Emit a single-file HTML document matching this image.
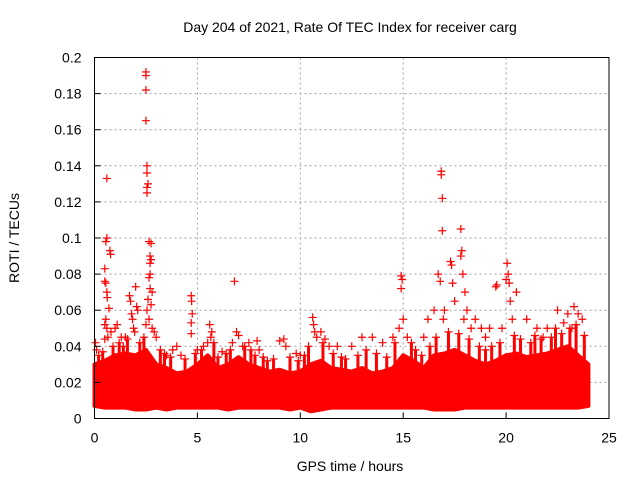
<!DOCTYPE html>
<html><head><meta charset="utf-8"><style>
body{margin:0;background:#fff}
svg{display:block;font-family:"Liberation Sans",sans-serif}
</style></head><body>
<svg id="chart" width="640" height="480">
<text x="350" y="32" font-size="14" text-anchor="middle">Day 204 of 2021, Rate Of TEC Index for receiver carg</text>
<text x="350" y="471" font-size="14" text-anchor="middle">GPS time / hours</text>
<text x="19" y="238" font-size="14" text-anchor="middle" transform="rotate(-90 19 238)">ROTI / TECUs</text>
<g id="grid"></g><g id="marks"></g><g id="axes"></g>
</svg>
<script>
const xTicks=[0,5,10,15,20,25];
const yTicks=[0,0.02,0.04,0.06,0.08,0.1,0.12,0.14,0.16,0.18,0.2];
const yTickLabels=["0","0.02","0.04","0.06","0.08","0.1","0.12","0.14","0.16","0.18","0.2"];
const bandHours=[0,0.5,1,1.5,2,2.5,3,3.5,4,4.5,5,5.5,6,6.5,7,7.5,8,8.5,9,9.5,10,10.5,11,11.5,12,12.5,13,13.5,14,14.5,15,15.5,16,16.5,17,17.5,18,18.5,19,19.5,20,20.5,21,21.5,22,22.5,23,23.5,24];
const bandUpper=[0.03,0.032,0.035,0.036,0.035,0.038,0.03,0.028,0.025,0.026,0.03,0.035,0.028,0.03,0.034,0.03,0.028,0.026,0.027,0.025,0.026,0.03,0.032,0.028,0.027,0.026,0.028,0.025,0.026,0.028,0.035,0.032,0.028,0.035,0.036,0.038,0.035,0.032,0.03,0.032,0.035,0.036,0.034,0.035,0.036,0.038,0.04,0.035,0.03];
const bandLower=[0.007,0.006,0.006,0.006,0.005,0.005,0.006,0.005,0.006,0.006,0.006,0.006,0.006,0.005,0.006,0.006,0.006,0.006,0.006,0.005,0.006,0.004,0.005,0.006,0.006,0.006,0.006,0.006,0.006,0.006,0.006,0.006,0.006,0.005,0.005,0.005,0.006,0.006,0.006,0.006,0.006,0.006,0.006,0.006,0.006,0.006,0.006,0.006,0.007];
const pointHours=[0.05,0.1,0.6,0.55,0.6,0.75,0.78,0.5,0.5,0.55,0.6,0.62,0.7,0.55,0.5,0.6,0.8,0.5,0.65,1.0,1.1,1.3,1.5,1.7,1.75,1.8,1.85,1.9,2.0,2.05,2.1,1.95,2.5,2.5,2.5,2.5,2.55,2.55,2.6,2.55,2.55,2.65,2.75,2.7,2.75,2.7,2.7,2.65,2.7,2.8,2.6,2.55,2.75,2.65,2.8,2.9,3.0,2.5,3.5,3.8,4.0,4.2,4.7,4.72,4.75,4.7,4.7,5.0,5.3,5.6,5.7,5.65,5.5,6.2,6.8,6.7,6.9,7.0,7.2,7.5,7.9,8.0,9.0,9.2,9.3,9.8,10.0,10.6,10.65,10.7,10.8,11.0,11.2,11.4,11.8,12.5,13,13.5,14,14.5,14.9,14.95,14.9,15.0,14.8,15.2,16,16.2,16.5,16.7,16.85,16.85,16.9,16.9,16.8,17.0,16.95,17.3,17.35,17.4,17.5,17.8,17.85,17.8,17.9,18.0,18.1,17.95,18.5,18.8,19.2,19.5,19.55,19.8,20.05,20.1,20.0,20.15,20.2,20.5,20.3,21,21.5,22.0,22.5,23.0,23.3,23.5,23.7,23.2,22.8,21.8,19,18.3];
const pointValues=[0.042,0.038,0.133,0.098,0.1,0.093,0.091,0.083,0.076,0.075,0.07,0.067,0.061,0.055,0.052,0.05,0.048,0.044,0.045,0.05,0.052,0.045,0.045,0.068,0.065,0.058,0.055,0.05,0.073,0.062,0.06,0.048,0.192,0.19,0.182,0.165,0.14,0.136,0.13,0.128,0.125,0.098,0.097,0.09,0.088,0.086,0.08,0.078,0.072,0.07,0.066,0.06,0.063,0.055,0.05,0.048,0.045,0.052,0.035,0.038,0.04,0.035,0.068,0.065,0.058,0.053,0.047,0.038,0.04,0.052,0.048,0.045,0.042,0.037,0.076,0.042,0.048,0.046,0.04,0.042,0.043,0.038,0.043,0.044,0.04,0.036,0.035,0.056,0.052,0.048,0.045,0.048,0.044,0.04,0.04,0.04,0.045,0.045,0.042,0.045,0.079,0.077,0.072,0.055,0.05,0.045,0.045,0.055,0.06,0.08,0.137,0.135,0.122,0.104,0.076,0.06,0.055,0.087,0.085,0.075,0.065,0.105,0.093,0.09,0.08,0.07,0.06,0.055,0.055,0.05,0.05,0.073,0.074,0.05,0.086,0.08,0.077,0.075,0.065,0.07,0.055,0.055,0.05,0.05,0.06,0.058,0.062,0.058,0.055,0.05,0.053,0.045,0.045,0.05];
const midHours=[0.2,0.4,0.9,1.2,1.4,1.6,2.2,2.4,3.2,3.4,3.7,4.4,4.9,5.2,5.8,6.0,6.4,6.6,7.3,7.6,7.8,8.2,8.4,8.7,9.5,9.9,10.2,10.4,11.1,11.6,12.0,12.2,12.8,13.2,13.7,14.2,14.6,15.4,15.6,15.9,16.3,16.6,17.2,17.7,18.2,18.7,19.0,19.3,19.7,20.4,20.7,21.2,21.4,21.7,22.2,22.4,22.7,23.1,23.4,23.8];
const midValues=[0.035,0.037,0.04,0.042,0.04,0.044,0.042,0.045,0.038,0.036,0.034,0.033,0.036,0.038,0.042,0.034,0.036,0.038,0.04,0.038,0.035,0.034,0.032,0.033,0.034,0.032,0.035,0.04,0.042,0.036,0.034,0.033,0.035,0.038,0.036,0.034,0.042,0.042,0.038,0.035,0.04,0.045,0.048,0.047,0.044,0.04,0.038,0.04,0.042,0.046,0.044,0.042,0.046,0.044,0.045,0.05,0.047,0.05,0.052,0.046];

const NS="http://www.w3.org/2000/svg";
const L=94.5,R=609,T=57.5,B=418.5;
const xs=h=>L+(h/25)*(R-L);
const ys=v=>B-(v/0.2)*(B-T);
const grid=document.getElementById('grid'),marks=document.getElementById('marks'),axes=document.getElementById('axes');
function mk(tag,attrs,parent){const e=document.createElementNS(NS,tag);for(const k in attrs)e.setAttribute(k,attrs[k]);parent.appendChild(e);return e;}

xTicks.forEach((t,i)=>{
  const x=xs(t);
  if(t>0&&t<25){const g=mk('line',{x1:x,x2:x,y1:T,y2:B,stroke:'#a0a0a0','stroke-dasharray':'2,3'},grid);
  
  }
  const tk=mk('line',{x1:x,x2:x,y1:B,y2:B-6,stroke:'#000'},axes);
  
  
  const lb=mk('text',{x:x,y:B+24,'font-size':14,'text-anchor':'middle'},axes);
  lb.textContent=String(t);
  
  
});
yTicks.forEach((t,i)=>{
  const y=ys(t);
  if(i>0&&i<yTicks.length-1){const g=mk('line',{x1:L,x2:R,y1:y,y2:y,stroke:'#a0a0a0','stroke-dasharray':'2,3'},grid);
  
  }
  const tk=mk('line',{x1:L,x2:L+6,y1:y,y2:y,stroke:'#000'},axes);
  
  
  const lb=mk('text',{x:L-13,y:y+5,'font-size':14,'text-anchor':'end'},axes);
  lb.textContent=yTickLabels[i];
  
  
});
const fr=mk('rect',{x:L,y:T,width:R-L,height:B-T,fill:'none',stroke:'#000'},axes);



let pts=[];
bandHours.forEach((h,i)=>pts.push(xs(h)+','+ys(bandUpper[i])));
for(let i=bandHours.length-1;i>=0;i--)pts.push(xs(bandHours[i])+','+ys(bandLower[i]));
const band=mk('polygon',{points:pts.join(' '),fill:'#f00',stroke:'#f00','stroke-width':4,'stroke-linejoin':'round'},marks);



function plus(h,v){
  const x=xs(h),y=ys(v);
  const p=mk('path',{d:`M${x-4},${y}H${x+4}M${x},${y-4}V${y+4}`,stroke:'#f00','stroke-width':1.2,fill:'none'},marks);
  
  
}
pointHours.forEach((h,i)=>plus(h,pointValues[i]));
midHours.forEach((h,i)=>{
  plus(h,midValues[i]);
  const x=xs(h);
  const s=mk('line',{x1:x,x2:x,y1:ys(midValues[i]),y2:ys(0.025),stroke:'#f00','stroke-width':3},marks);
  
  
});
</script>
</body></html>
